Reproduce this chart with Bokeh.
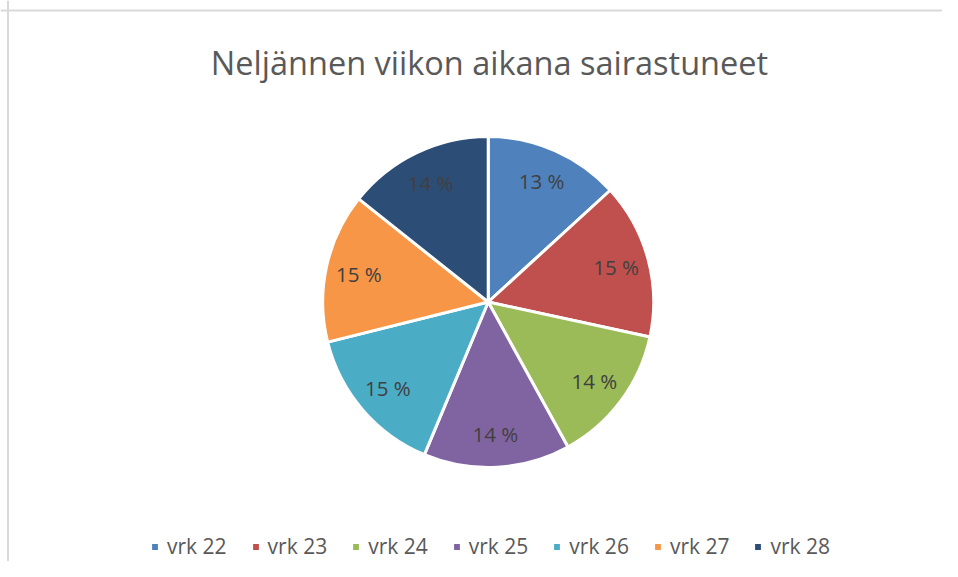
import numpy as np
from bokeh.plotting import figure
from bokeh.models import ColumnDataSource, Legend, LegendItem, Label, Span, Range1d
from bokeh.core.properties import value
from bokeh.embed import file_html
from bokeh.resources import INLINE

# ---- data ----
categories = ["vrk 22", "vrk 23", "vrk 24", "vrk 25", "vrk 26", "vrk 27", "vrk 28"]
shares = [13.2, 15.2, 13.6, 14.3, 14.8, 14.6, 14.3]
colors = ["#4F81BD", "#C0504D", "#9BBB59", "#8064A2", "#4BACC6", "#F79646", "#2C4D75"]
title_text = "Neljännen viikon aikana sairastuneet"

# ---- layout ----
W, H = 942, 561
FONT = "Open Sans"

p = figure(width=W, height=H, x_range=Range1d(0, W), y_range=Range1d(0, H),
           min_border=0, toolbar_location=None, output_backend="svg")
p.axis.visible = False
p.grid.visible = False
p.outline_line_color = None
p.background_fill_color = "white"
p.border_fill_color = "white"

fr = np.array(shares, dtype=float) / sum(shares)
cum = np.concatenate([[0.0], np.cumsum(fr)])
start = np.pi / 2 - cum[:-1] * 2 * np.pi
end = np.pi / 2 - cum[1:] * 2 * np.pi
mid = (start + end) / 2

cx, cy, R = 487.7, 259.5, 165.5
lr = 0.8 * R
src = ColumnDataSource(dict(
    cat=categories, start=start, end=end, color=colors,
    lx=cx + lr * np.cos(mid), ly=cy + lr * np.sin(mid),
    lab=[f"{int(round(v * 100))} %" for v in fr],
))

wedges = p.wedge(x=cx, y=cy, radius=R, radius_units="screen",
                 start_angle="start", end_angle="end", direction="clock",
                 fill_color="color", line_color="white", line_width=3, source=src)

p.text(x="lx", y="ly", text="lab", source=src, text_align="center",
       text_baseline="middle", text_font=value(FONT), text_font_size="20.5px",
       text_color="#404040")

# title
p.add_layout(Label(x=489, y=499, text=title_text, text_align="center",
                   text_baseline="alphabetic", text_font=FONT,
                   text_font_size="32.5px", text_color="#595959"))

# chart-area border (top and left visible in the reference)
p.add_layout(Span(location=551, dimension="width", line_color="#D9D9D9", line_width=2))
p.add_layout(Span(location=7.5, dimension="height", line_color="#D9D9D9", line_width=2))

# legend
items = [LegendItem(label=c, renderers=[wedges], index=i) for i, c in enumerate(categories)]
legend = Legend(items=items, orientation="horizontal", location=(149, 1),
                padding=0, margin=0, spacing=23, glyph_width=11, glyph_height=11,
                label_standoff=7, label_text_font=FONT, label_text_font_size="21px",
                label_text_color="#595959", border_line_color=None,
                background_fill_alpha=0)
p.add_layout(legend)

open("out.html", "w").write(file_html(p, INLINE))
